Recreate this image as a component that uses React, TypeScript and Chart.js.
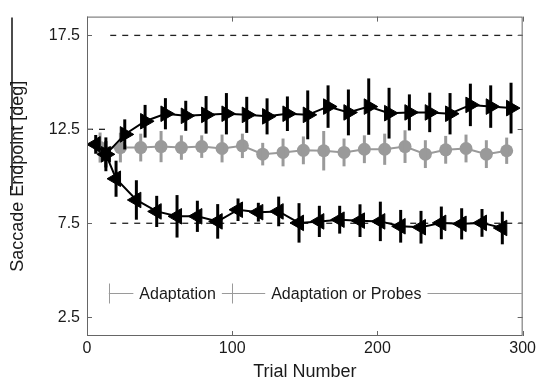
import React, { useEffect, useRef } from 'react';
import { Chart, registerables } from 'chart.js';

Chart.register(...registerables);

// ---- data ----
const xTickValues = [0, 100, 200, 300];
const yTickValues = [2.5, 7.5, 12.5, 17.5];

const upTrials = [13, 26, 40, 54, 68, 82, 96, 110, 124, 138, 152, 166, 180, 194, 208, 222, 236, 250, 264, 278, 292];
const upValues = [11.17, 12.23, 12.93, 13.33, 13.22, 13.27, 13.33, 13.27, 13.19, 13.33, 13.27, 13.71, 13.4, 13.71, 13.36, 13.4, 13.4, 13.33, 13.8, 13.71, 13.63];
const upErrors = [0.7, 0.8, 0.87, 0.83, 0.8, 1.0, 1.1, 0.96, 0.96, 0.92, 1.3, 1.13, 1.22, 1.5, 1.35, 0.96, 1.05, 1.1, 1.13, 1.13, 1.35];

const downTrials = [6, 13, 20, 34, 48, 62, 76, 90, 104, 118, 132, 146, 160, 174, 188, 202, 216, 230, 244, 258, 272, 286];
const downValues = [11.7, 11.17, 9.87, 8.74, 8.13, 7.87, 7.87, 7.6, 8.22, 8.09, 8.13, 7.52, 7.6, 7.69, 7.64, 7.6, 7.34, 7.29, 7.52, 7.47, 7.52, 7.25];
const downErrors = [0.5, 0.9, 0.96, 1.05, 0.83, 1.13, 0.83, 0.92, 0.6, 0.5, 0.79, 1.05, 0.83, 0.74, 0.87, 1.05, 0.87, 0.87, 0.87, 0.83, 0.74, 0.87];

const probeTrials = [9, 23, 37, 51, 65, 79, 93, 107, 121, 135, 149, 163, 177, 191, 205, 219, 233, 247, 261, 275, 289];
const probeValues = [11.53, 11.53, 11.53, 11.58, 11.53, 11.58, 11.48, 11.62, 11.18, 11.27, 11.38, 11.36, 11.27, 11.44, 11.44, 11.58, 11.18, 11.41, 11.48, 11.18, 11.36];
const probeErrors = [0.8, 0.79, 0.74, 0.83, 0.65, 0.6, 0.74, 0.65, 0.6, 0.74, 0.74, 1.05, 0.74, 0.74, 0.83, 0.87, 0.74, 0.74, 0.74, 0.74, 0.7];

const preTargetTrials = [0, 13];
const preTargetValue = 12.5;
const upTargetTrials = [16, 300];
const upTargetValue = 17.5;
const downTargetTrials = [16, 300];
const downTargetValue = 7.5;

const phaseLevel = 3.8;
const phaseBounds = [15, 100, 300];
const phaseLabels = ['Adaptation', 'Adaptation or Probes'];
const phaseLabelTrials = [62.4, 178.6];

const FONT = "'Liberation Sans', Arial, Helvetica, sans-serif";
const TEXT = '#1a1a1a';

const toXY = (xs: number[], ys: number[]) => xs.map((x, i) => ({ x, y: ys[i] }));

const decorPlugin = {
  id: 'decor',
  afterDatasetDraw(chart: any, args: any) {
    const ds = chart.data.datasets[args.index];
    if (!ds.errors) return;
    const ctx = chart.ctx;
    const ys = chart.scales.y;
    ctx.save();
    ctx.strokeStyle = ds.errorColor;
    ctx.lineWidth = 3;
    args.meta.data.forEach((pt: any, i: number) => {
      const v = ds.data[i].y;
      const e = ds.errors[i];
      ctx.beginPath();
      ctx.moveTo(pt.x, ys.getPixelForValue(v - e));
      ctx.lineTo(pt.x, ys.getPixelForValue(v + e));
      ctx.stroke();
    });
    ctx.restore();
  },
  afterDraw(chart: any) {
    const ctx = chart.ctx;
    const { left, right, top, bottom } = chart.chartArea;
    const xs = chart.scales.x;
    const ys = chart.scales.y;
    ctx.save();
    // frame
    ctx.strokeStyle = '#666';
    ctx.lineWidth = 1;
    ctx.strokeRect(left + 0.5, top + 0.5, right - left - 1, bottom - top - 1);
    // inside ticks
    ctx.beginPath();
    xTickValues.forEach((v) => {
      const px = Math.round(xs.getPixelForValue(v)) + 0.5;
      ctx.moveTo(px, bottom);
      ctx.lineTo(px, bottom - 5);
      ctx.moveTo(px, top);
      ctx.lineTo(px, top + 5);
    });
    yTickValues.forEach((v) => {
      const py = Math.round(ys.getPixelForValue(v)) + 0.5;
      ctx.moveTo(left, py);
      ctx.lineTo(left + 5, py);
      ctx.moveTo(right, py);
      ctx.lineTo(right - 5, py);
    });
    ctx.stroke();

    // phase annotation
    const py = Math.round(ys.getPixelForValue(phaseLevel)) + 0.5;
    ctx.strokeStyle = '#9a9a9a';
    ctx.lineWidth = 1;
    ctx.beginPath();
    ctx.moveTo(xs.getPixelForValue(phaseBounds[0]), py);
    ctx.lineTo(xs.getPixelForValue(phaseBounds[phaseBounds.length - 1]), py);
    for (let i = 0; i < phaseBounds.length - 1; i++) {
      const bx = Math.round(xs.getPixelForValue(phaseBounds[i])) + 0.5;
      ctx.moveTo(bx, py - 10);
      ctx.lineTo(bx, py + 10);
    }
    ctx.stroke();
    ctx.font = `16px ${FONT}`;
    ctx.textBaseline = 'middle';
    ctx.textAlign = 'center';
    phaseLabels.forEach((lab, i) => {
      const cx = xs.getPixelForValue(phaseLabelTrials[i]);
      const w = ctx.measureText(lab).width;
      ctx.fillStyle = '#ffffff';
      ctx.fillRect(cx - w / 2 - 6, py - 10, w + 12, 20);
      ctx.fillStyle = TEXT;
      ctx.fillText(lab, cx, py + 1);
    });

    // stray vertical line at the left edge of the figure
    ctx.strokeStyle = '#111';
    ctx.lineWidth = 1.5;
    ctx.beginPath();
    ctx.moveTo(12, top + 1);
    ctx.lineTo(12, 190);
    ctx.stroke();
    ctx.restore();
  },
};

export default function App() {
  const canvasRef = useRef<HTMLCanvasElement | null>(null);

  useEffect(() => {
    document.body.style.margin = '0';
    const canvas = canvasRef.current;
    if (!canvas) return;
    const targetStyle = {
      type: 'line',
      borderColor: '#222',
      borderWidth: 1.3,
      borderDash: [6, 6],
      pointRadius: 0,
      fill: false,
      order: 10,
    };
    const chart = new Chart(canvas, {
      type: 'line',
      data: {
        datasets: [
          { ...targetStyle, data: toXY(preTargetTrials, preTargetTrials.map(() => preTargetValue)) },
          { ...targetStyle, data: toXY(upTargetTrials, upTargetTrials.map(() => upTargetValue)) },
          { ...targetStyle, data: toXY(downTargetTrials, downTargetTrials.map(() => downTargetValue)) },
          {
            data: toXY(probeTrials, probeValues),
            errors: probeErrors,
            errorColor: '#9a9a9a',
            borderColor: '#9a9a9a',
            backgroundColor: '#9a9a9a',
            borderWidth: 2,
            pointStyle: 'circle',
            pointRadius: 6.5,
            pointBorderWidth: 0,
            order: 5,
          } as any,
          {
            data: toXY(downTrials, downValues),
            errors: downErrors,
            errorColor: '#000',
            borderColor: '#000',
            backgroundColor: '#000',
            borderWidth: 2,
            pointStyle: 'triangle',
            rotation: -90,
            pointRadius: 9,
            pointBorderWidth: 1,
            order: 2,
          } as any,
          {
            data: toXY(upTrials, upValues),
            errors: upErrors,
            errorColor: '#000',
            borderColor: '#000',
            backgroundColor: '#000',
            borderWidth: 2,
            pointStyle: 'triangle',
            rotation: 90,
            pointRadius: 9,
            pointBorderWidth: 1,
            order: 1,
          } as any,
        ],
      } as any,
      options: {
        animation: false,
        responsive: false,
        maintainAspectRatio: false,
        devicePixelRatio: 1,
        layout: { padding: { top: 11, right: 12, left: 0, bottom: 0 } },
        plugins: { legend: { display: false }, tooltip: { enabled: false } },
        events: [],
        scales: {
          x: {
            type: 'linear',
            min: 0,
            max: 300,
            afterBuildTicks: (s: any) => {
              s.ticks = xTickValues.map((v) => ({ value: v }));
            },
            afterFit: (s: any) => {
              s.height = 45;
            },
            grid: { display: false, drawTicks: false },
            border: { display: false },
            ticks: {
              font: { family: FONT, size: 16 },
              color: TEXT,
              padding: 3,
              maxRotation: 0,
              callback: (v: any) => String(v),
            },
            title: {
              display: true,
              text: 'Trial Number',
              font: { family: FONT, size: 18, lineHeight: 1 },
              color: TEXT,
              padding: { top: 0, bottom: 0 },
            },
          },
          y: {
            type: 'linear',
            min: 1.5,
            max: 18.5,
            afterBuildTicks: (s: any) => {
              s.ticks = yTickValues.map((v) => ({ value: v }));
            },
            afterFit: (s: any) => {
              s.width = 87;
            },
            grid: { display: false, drawTicks: false },
            border: { display: false },
            ticks: {
              font: { family: FONT, size: 16 },
              color: TEXT,
              padding: 7,
              callback: (v: any) => String(v),
            },
            title: {
              display: true,
              text: 'Saccade Endpoint [deg]',
              font: { family: FONT, size: 18, lineHeight: 1 },
              color: TEXT,
              padding: { top: 9.5, bottom: 0 },
            },
          },
        },
      } as any,
      plugins: [decorPlugin],
    });
    return () => chart.destroy();
  }, []);

  return (
    <div style={{ position: 'fixed', left: 0, top: 0, width: 539, height: 381, background: '#fff' }}>
      <canvas ref={canvasRef} width={539} height={381} style={{ width: 539, height: 381, display: 'block' }} />
    </div>
  );
}
